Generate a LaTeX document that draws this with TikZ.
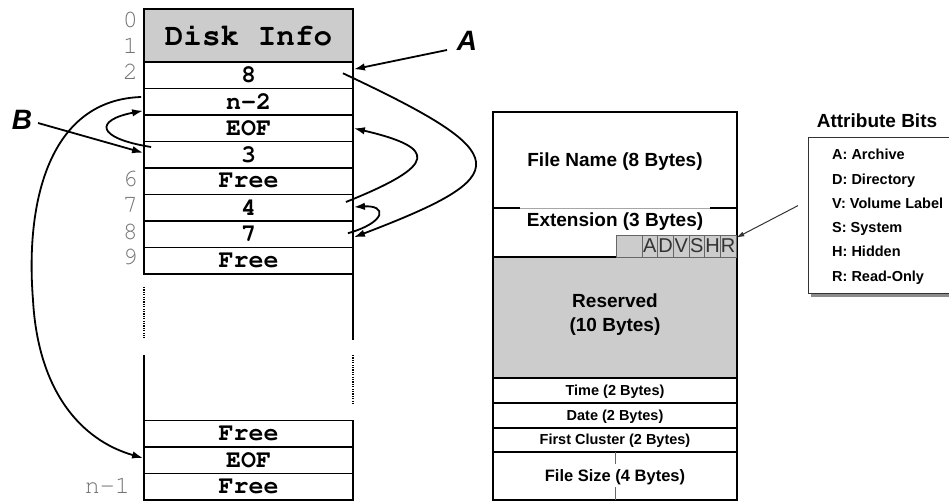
\documentclass[tikz,border=0pt]{standalone}
\usepackage[T1]{fontenc}
\usepackage{fontspec}
\usetikzlibrary{arrows.meta}
\newfontfamily\hv{Liberation Sans}
\newcommand\crb{\fontencoding{T1}\fontfamily{pcr}\fontseries{b}\selectfont}
\newcommand\crm{\fontencoding{T1}\fontfamily{pcr}\fontseries{m}\selectfont}
\begin{document}
\begin{tikzpicture}[x=1pt,y=-1pt,
  cell/.style={draw, line width=1.8pt, minimum width=209pt, minimum height=26.5pt, inner sep=0pt,
    font=\crb\fontsize{25}{25}\selectfont},
  idx/.style={anchor=east, inner sep=0pt, text=black!55, font=\crm\fontsize{25}{25}\selectfont},
  ptr/.style={line width=1.8pt, -{Latex[length=11pt,width=7.5pt]}},
  lbl/.style={font=\hv\bfseries\itshape\fontsize{28}{28}\selectfont, inner sep=0pt},
  fld/.style={font=\hv\bfseries\fontsize{19}{24}\selectfont, inner sep=0pt, align=center},
  sfld/.style={font=\hv\bfseries\fontsize{14.5}{16}\selectfont, inner sep=0pt},
  bit/.style={draw=black!60, fill=black!20, line width=0.6pt, minimum width=15.67pt, minimum height=22pt,
    inner sep=0pt, font=\hv\fontsize{20}{20}\selectfont, text=black!80},
  attr/.style={anchor=base west, inner sep=0pt, font=\hv\bfseries\fontsize{14.5}{16}\selectfont}
]
\useasboundingbox (0,0) rectangle (949,501);

% ---------- FAT table ----------
\node[cell, fill=black!20, minimum height=53pt, font=\crb\fontsize{31}{31}\selectfont] (r01) at (248.5,35.5) {Disk Info};
\node[cell] (r2) at (248.5,75.25) {8};
\node[cell] (r3) at (248.5,101.75) {n-2};
\node[cell] (r4) at (248.5,128.25) {EOF};
\node[cell] (r5) at (248.5,154.75) {3};
\node[cell] (r6) at (248.5,181.25) {Free};
\node[cell] (r7) at (248.5,207.75) {4};
\node[cell] (r8) at (248.5,234.25) {7};
\node[cell] (r9) at (248.5,260.75) {Free};
\node[cell] (rA) at (248.5,433.75) {Free};
\node[cell] (rB) at (248.5,460.25) {EOF};
\node[cell] (rC) at (248.5,486.75) {Free};

\node[idx] (i0) at (138,20) {0};
\node[idx] (i1) at (138,46) {1};
\node[idx] (i2) at (138,72) {2};
\node[idx] (i6) at (138,179) {6};
\node[idx] (i7) at (138,205.5) {7};
\node[idx] (i8) at (138,231.5) {8};
\node[idx] (i9) at (138,257) {9};
\node[idx] (in) at (130,485) {n-1};

% broken side lines
\draw[line width=1.8pt] (144,355) -- (144,420.5);
\draw[line width=1.8pt] (353,274) -- (353,340);
\draw[line width=1.6pt, dash pattern=on 1.2pt off 1.2pt] (144,287) -- (144,338);
\draw[line width=1.6pt, dash pattern=on 1.2pt off 1.2pt] (353,355) -- (353,405);

% labels A and B
\node[lbl] (A) at (467,41) {A};
\node[lbl] (B) at (22,120) {B};
\coordinate (Atail) at (447,50);
\coordinate (Btail) at (38,123);

\draw[ptr] (Atail) -- ([yshift=6pt]r2.east);
\draw[ptr] (Btail) -- ([yshift=2pt]r5.west);

% chain of file A
\draw[ptr] ([xshift=-11pt,yshift=2pt]r2.east) .. controls (517,155) and (517,175) .. ([yshift=-3pt]r8.east);
\draw[ptr] ([xshift=-8pt,yshift=5.75pt]r7.east) .. controls (438,165) and (438,148) .. (r4.east);
\draw[ptr] ([xshift=-6pt,yshift=1pt]r8.east) .. controls (387,222) and (387,205) .. ([yshift=0.75pt]r7.east);

% chain of file B
\draw[ptr] ([xshift=8pt,yshift=7.75pt]r5.west) .. controls (95,138) and (95,120) .. ([yshift=-9pt]r3.west);
\draw[ptr] ([xshift=-2pt,yshift=4.75pt]r3.west) .. controls (50,100) and (25,200) .. (33,300)
   .. controls (38,390) and (80,440) .. ([yshift=2.25pt]rB.west);

% ---------- Directory entry ----------
\fill[black!20] (493,257) rectangle (737,378);
\draw[line width=1.8pt] (493,112) rectangle (737,500);
\foreach \yy in {257,378,403,428,452} \draw[line width=1.8pt] (493,\yy) -- (737,\yy);
\draw[black!35, line width=0.8pt] (493,208) -- (737,208);
\draw[line width=1.8pt] (493,208) -- (520,208);
\draw[line width=1.8pt] (710,208) -- (737,208);
\draw[black!60, line width=0.8pt] (615,452) -- (615,464);
\draw[black!60, line width=0.8pt] (615,487) -- (615,500);

\node[fld] (fn) at (615,162) {File Name (8 Bytes)};
\node[fld] (ext) at (615,222) {Extension (3 Bytes)};
\node[fld] (res) at (615,315) {Reserved\\(10 Bytes)};
\node[sfld] (tm) at (615,392) {Time (2 Bytes)};
\node[sfld] (dt) at (615,417) {Date (2 Bytes)};
\node[sfld] (fc) at (615,441) {First Cluster (2 Bytes)};
\node[sfld, font=\hv\bfseries\fontsize{16.5}{18}\selectfont] (fs) at (615,477) {File Size (4 Bytes)};

\node[bit, minimum width=26pt] (b0) at (629,246) {};
\node[bit] (bA) at (649.8,246) {A};
\node[bit] (bD) at (665.5,246) {D};
\node[bit] (bV) at (681.2,246) {V};
\node[bit] (bS) at (696.8,246) {S};
\node[bit] (bH) at (712.5,246) {H};
\node[bit] (bR) at (728.2,246) {R};

% ---------- Attribute bits box ----------
\fill[black!45] (811,140) rectangle (965,297);
\node[draw=black!80, line width=1.2pt, fill=white, anchor=north west, minimum width=160pt, minimum height=156pt, inner sep=0pt] (attrbox) at (808,137) {};
\node[font=\hv\bfseries\fontsize{19}{19}\selectfont, inner sep=0pt] (atitle) at (877,121) {Attribute Bits};
\node[attr] (tA) at (832,159.2) {A: Archive};
\node[attr] (tD) at (832,184.2) {D: Directory};
\node[attr] (tV) at (832,208.2) {V: Volume Label};
\node[attr] (tS) at (832,232.7) {S: System};
\node[attr] (tH) at (832,256.7) {H: Hidden};
\node[attr] (tR) at (832,281.2) {R: Read-Only};

\draw[line width=1pt, black!80, -{Latex[length=8pt,width=5pt]}] ([xshift=-10pt,yshift=10pt]attrbox.west) -- ([yshift=-3pt]bR.north east);
\end{tikzpicture}
\end{document}
